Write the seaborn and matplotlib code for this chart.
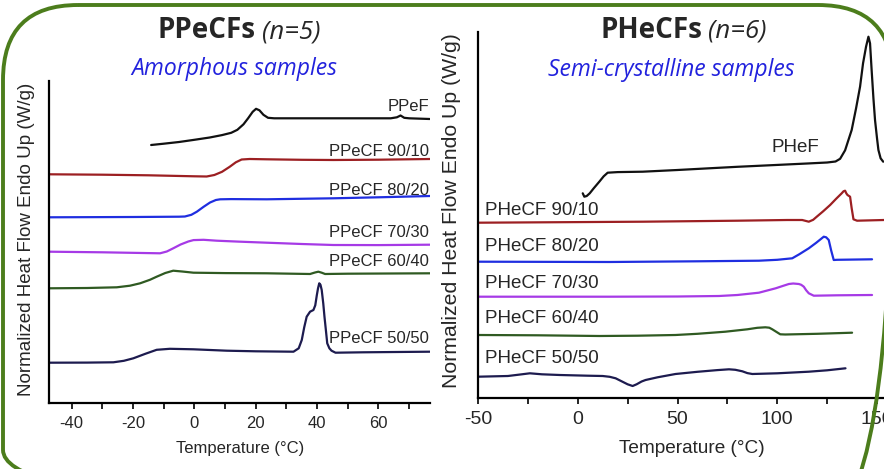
"""DSC heating scans of PPeCF and PHeCF copolyesters (two panels)."""

import matplotlib
matplotlib.use("Agg")
import matplotlib.pyplot as plt
import pandas as pd
import seaborn as sns
from matplotlib.patches import FancyBboxPatch
from matplotlib.ticker import MultipleLocator

# ---------------------------------------------------------------- data
# Heat flow is in arbitrary stacked units (curves are vertically offset).

# PPeCFs (n=5) - amorphous
ppe_names = ["PPeF", "PPeCF 90/10", "PPeCF 80/20", "PPeCF 70/30",
             "PPeCF 60/40", "PPeCF 50/50"]

ppef_t = [-14.1, -10, -5, 0, 5, 9, 12, 14, 16, 17.5, 19, 20.1, 21.2, 22.5,
          24, 26, 35, 50, 64, 66, 67.2, 68.4, 70, 76.7]
ppef_h = [258.3, 259.6, 261.3, 263.5, 265.8, 268.2, 270.5, 273.5, 279, 285,
          291.5, 294.5, 293, 288.5, 285.5, 285, 285, 285, 285, 286, 287.8,
          285.5, 285, 284.3]

ppe90_t = [-47.3, -30, -15, 0, 4, 6.5, 9, 11.5, 13.5, 15.4, 18, 23.6, 35,
           45.3, 60, 76.8]
ppe90_h = [229, 228.6, 228, 227, 226.8, 228.3, 231.5, 236.5, 241, 243.8,
           244.3, 244, 243.5, 243.3, 243.6, 244.3]

ppe80_t = [-47.3, -20, -5, -3.1, -1, 0.8, 3, 5.1, 7, 8.4, 12, 23.6, 45.3,
           60, 76.8]
ppe80_h = [186, 186.3, 186.6, 186.8, 188.5, 191.6, 196.5, 200.8, 203.3, 204,
           204.2, 204, 205, 206, 207.3]

ppe70_t = [-47.3, -30, -15, -11.2, -9, -6.9, -4.5, -2, -0.3, 3, 7.3, 15,
           23.6, 35, 45.3, 60, 76.8]
ppe70_h = [151.6, 151, 150.2, 150, 151.8, 155, 158.8, 161.8, 163.2, 163.5,
           162.6, 161.6, 160.6, 159.3, 158.3, 158.2, 158.6]

ppe60_t = [-47.3, -35, -25.3, -21, -17.7, -14.5, -12.3, -9.5, -6.9, -4,
           -0.3, 10, 23.6, 37.7, 39.3, 40.4, 41.5, 42.6, 50, 76.8]
ppe60_h = [115, 115.3, 116, 117.6, 120, 123.5, 126.6, 130.3, 132.6, 131.8,
           130.6, 130.2, 130, 129.3, 130.8, 131.6, 130.6, 129.3, 129.6, 130]

ppe50_t = [-47.3, -35, -26.4, -23, -19.9, -16, -12.3, -8, -0.3, 10.6, 20,
           32.3, 34, 35, 35.8, 36.6, 37.7, 38.8, 39.4, 39.9, 40.3, 40.7, 41.1,
           41.5, 42, 42.4, 42.9, 43.3, 44, 44.7, 46, 55, 76.8]
ppe50_h = [40.6, 40.7, 41, 42.5, 45, 49.5, 53.5, 54.5, 54, 52.6, 52, 51.6,
           55, 63.3, 76, 86.6, 91.6, 93.3, 98, 108, 115, 120, 118.5, 113.3,
           100, 86.6, 72, 60, 55, 52.6, 50.6, 51, 51.6]

# PHeCFs (n=6) - semi-crystalline
phe_names = ["PHeF", "PHeCF 90/10", "PHeCF 80/20", "PHeCF 70/30",
             "PHeCF 60/40", "PHeCF 50/50"]

phef_t = [2.5, 3.3, 4.5, 6, 8, 10.8, 13, 15, 20, 32.5, 50, 65.8, 80, 99.2,
          115, 125, 129.2, 131.5, 134, 137.3, 139.5, 141.5, 143, 144.5, 145.7,
          146.5, 147.3, 148.2, 149, 150, 150.7, 151.8, 153.1]
phef_h = [205, 201.6, 202.3, 205, 210, 216.6, 222, 225.6, 226.2, 226.6,
          228.3, 230, 231.5, 233.3, 234.8, 235.8, 236.8, 239.5, 248, 268.3,
          290, 311.6, 335, 351.6, 361.6, 355, 328.3, 300, 278.3, 260, 248.3,
          240, 236.6]

phe90_t = [-50, 0, 32.5, 80, 105, 112.5, 115.8, 118, 119.8, 123, 126.5,
           129.5, 132.3, 133.2, 134, 134.6, 135.2, 136.5, 137.3, 138.2, 140,
           153.5]
phe90_h = [175.6, 176.2, 176.6, 177.6, 178.3, 178.3, 176.6, 178.5, 181.6,
           187, 193.3, 199.5, 205, 207, 207.6, 205, 203.3, 201.6, 190, 179,
           177.6, 178.3]

phe80_t = [-50, 15.8, 60, 90.8, 100, 107.5, 111, 115.8, 119.5, 122, 123.3,
           124.5, 125.8, 127, 128.3, 130, 147.5]
phe80_h = [136.6, 136.3, 137, 137.6, 138.5, 140, 144, 150, 155.5, 159.5,
           161.6, 161, 158.3, 148, 138.3, 138.5, 139]

phe70_t = [-50, 15.8, 50, 70.8, 80, 90.8, 95, 99.2, 103, 105.8, 108, 110.8,
           112, 113.3, 114.5, 115.8, 118.3, 130, 147.5]
phe70_h = [101.6, 101.6, 101.8, 102.3, 103.3, 105.6, 107.8, 110, 112.5,
           114.3, 114.8, 114.3, 113.5, 111.6, 108, 105, 102.6, 103, 103.3]

phe60_t = [-50, -20, 10.8, 30, 49, 60, 74, 85, 90, 94, 96, 97.5, 99.5,
           101.5, 104, 120, 137.5]
phe60_h = [63.3, 63, 62.3, 62.6, 63.3, 64.5, 66.6, 69, 70.5, 71, 70.6, 69,
           66.5, 64, 63.8, 64.5, 65.6]

phe50_t = [-50, -35, -28, -24, -18, -9, 5, 12.5, 16, 19, 22, 25, 27.5, 29.5,
           32, 34, 40, 49, 60, 70, 75.8, 79, 82.5, 85, 87.5, 100, 115.8, 125,
           134.2]
phe50_h = [21.6, 22.3, 24, 25, 24, 23.3, 22.6, 22.3, 21.5, 20, 17, 14, 12.3,
           14, 16.8, 18.3, 21, 24.3, 26.5, 28.2, 29, 28.5, 27, 25.2, 24.3, 25,
           26.6, 28, 30]

curve_colors = ["#111111", "#9c1f22", "#1f2ee0", "#a63ae6", "#2f5a22", "#1d1b4f"]


def long_frame(names, temps, flows):
    parts = [pd.DataFrame({"T": t, "HF": h, "sample": n})
             for n, t, h in zip(names, temps, flows)]
    return pd.concat(parts, ignore_index=True)


ppe_df = long_frame(ppe_names,
                    [ppef_t, ppe90_t, ppe80_t, ppe70_t, ppe60_t, ppe50_t],
                    [ppef_h, ppe90_h, ppe80_h, ppe70_h, ppe60_h, ppe50_h])
phe_df = long_frame(phe_names,
                    [phef_t, phe90_t, phe80_t, phe70_t, phe60_t, phe50_t],
                    [phef_h, phe90_h, phe80_h, phe70_h, phe60_h, phe50_h])

# ---------------------------------------------------------------- style
sns.set_style("ticks")
plt.rcParams["font.family"] = ["Liberation Sans", "DejaVu Sans"]
plt.rcParams["axes.unicode_minus"] = False

W, H = 884, 469
fig = plt.figure(figsize=(W / 100, H / 100), dpi=100)


def box(x0, y0, x1, y1):
    """pixel box (top-left origin) -> figure fraction rect"""
    return [x0 / W, 1 - y1 / H, (x1 - x0) / W, (y1 - y0) / H]


def style_axis(ax, major, minor, tick_size):
    sns.despine(ax=ax)
    for side in ("left", "bottom"):
        ax.spines[side].set_linewidth(1.6)
        ax.spines[side].set_color("black")
    ax.set_yticks([])
    ax.xaxis.set_major_locator(MultipleLocator(major))
    ax.xaxis.set_minor_locator(MultipleLocator(minor))
    ax.tick_params(axis="x", which="both", direction="out", length=4,
                   width=1.2, color="black", labelsize=tick_size, pad=5)
    ax.set_xlabel("")
    ax.set_ylabel("")
    ax.patch.set_alpha(0)
    for line in ax.lines:
        line.set_solid_joinstyle("round")


# ---------------------------------------------------------------- left
ax1 = fig.add_axes(box(49.3, 81, 430, 403.3))
sns.lineplot(data=ppe_df, x="T", y="HF", hue="sample",
             palette=dict(zip(ppe_names, curve_colors)), estimator=None,
             sort=False, legend=False, linewidth=1.6, ax=ax1)
ax1.set_xlim(-47.3, 76.8)
ax1.set_ylim(0, 322.3)
style_axis(ax1, 20, 10, 12)

ppe_label_y = [296.6, 251.6, 213.3, 171.3, 141.6, 65]
for name, ly in zip(ppe_names, ppe_label_y):
    ax1.text(76.5, ly, name, ha="right", va="center", fontsize=12)

# ---------------------------------------------------------------- right
ax2 = fig.add_axes(box(478, 31.7, 884, 398.3))
sns.lineplot(data=phe_df, x="T", y="HF", hue="sample",
             palette=dict(zip(phe_names, curve_colors)), estimator=None,
             sort=False, legend=False, linewidth=1.6, ax=ax2)
ax2.set_xlim(-50, 153.5)
ax2.set_ylim(0, 366.6)
style_axis(ax2, 50, 25, 14)

ax2.text(109, 251.3, "PHeF", ha="center", va="center", fontsize=13.5)
phe_label_y = [188.3, 151.6, 115, 80, 40]
for name, ly in zip(phe_names[1:], phe_label_y):
    ax2.text(-46.6, ly, name, ha="left", va="center", fontsize=13.5)

# ---------------------------------------------------------------- texts
ttl = ["Open Sans", "DejaVu Sans"]
fig.text(256 / W, 1 - 38.3 / H, "PPeCFs", ha="right", va="baseline",
         fontsize=20, fontweight="bold", family=ttl)
fig.text(262 / W, 1 - 38.3 / H, "(n=5)", ha="left", va="baseline",
         fontsize=18.5, style="italic", family=ttl)
fig.text(234 / W, 1 - 75 / H, "Amorphous samples", ha="center",
         va="baseline", fontsize=16.5, style="italic", color="#2222dd",
         family=ttl)

fig.text(702 / W, 1 - 38 / H, "PHeCFs", ha="right", va="baseline",
         fontsize=20, fontweight="bold", family=ttl)
fig.text(708 / W, 1 - 38 / H, "(n=6)", ha="left", va="baseline",
         fontsize=18.5, style="italic", family=ttl)
fig.text(671 / W, 1 - 76 / H, "Semi-crystalline samples", ha="center",
         va="baseline", fontsize=16.5, style="italic", color="#2222dd",
         family=ttl)

ylab = "Normalized Heat Flow Endo Up (W/g)"
fig.text(27 / W, 1 - 239 / H, ylab, rotation=90, ha="center", va="center",
         fontsize=13.5)
fig.text(452 / W, 1 - 211 / H, ylab, rotation=90, ha="center", va="center",
         fontsize=15.3)
fig.text(240 / W, 1 - 448.3 / H, "Temperature (°C)", ha="center",
         va="center", fontsize=12)
fig.text(692 / W, 1 - 448.3 / H, "Temperature (°C)", ha="center",
         va="center", fontsize=13.7)

# ---------------------------------------------------------------- frame
frame = fig.add_axes([0, 0, 1, 1], zorder=5)
frame.set_xlim(0, W)
frame.set_ylim(H, 0)
frame.axis("off")
frame.patch.set_alpha(0)
frame.add_patch(FancyBboxPatch((3, 5), 890, 520,
                               boxstyle="round,pad=0,rounding_size=75",
                               facecolor="none", edgecolor="#4c7d1c",
                               linewidth=2.8))

fig.savefig("out.png", dpi=100)
plt.close(fig)
